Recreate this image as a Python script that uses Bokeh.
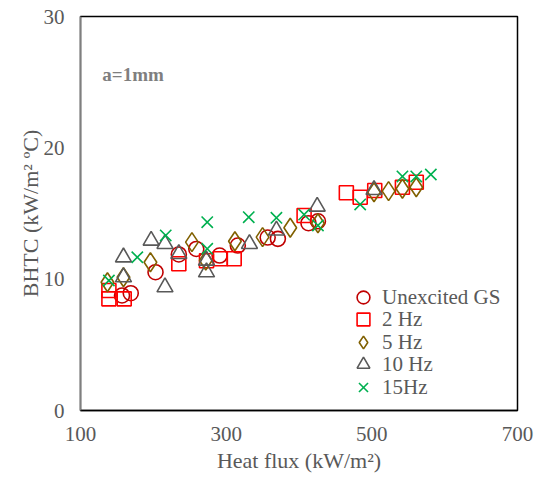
from bokeh.plotting import figure
from bokeh.models import Range1d, FixedTicker, Legend, LegendItem, Label
from bokeh.embed import file_html
from bokeh.resources import INLINE

# Data (heat flux kW/m², BHTC kW/m²°C)
gs_x = [157, 169, 203, 235, 259, 291, 316, 357, 371, 413, 426]
gs_y = [8.76, 8.93, 10.53, 11.88, 12.3, 11.8, 12.56, 13.17, 13.07, 14.26, 14.41]

hz2_x = [139, 139, 160, 235, 273, 292, 311, 407, 465, 484, 504, 542, 561]
hz2_y = [9.14, 8.5, 8.5, 11.17, 11.4, 11.55, 11.55, 14.85, 16.58, 16.24, 16.75, 17.0, 17.38]

hz5_x = [137, 159, 196, 253, 272, 312, 350, 388, 426, 503, 523, 542, 561]
hz5_y = [9.77, 10.15, 11.29, 12.82, 11.42, 12.89, 13.2, 13.91, 14.26, 16.62, 16.7, 16.88, 17.0]

hz10_x = [159, 159, 197, 216, 216, 235, 273, 273, 332, 369, 425, 503]
hz10_y = [11.67, 10.15, 12.94, 12.69, 9.39, 11.93, 11.42, 10.53, 12.69, 13.71, 15.53, 16.8]

hz15_x = [139, 178, 217, 274, 274, 331, 369, 407, 426, 484, 542, 561, 581]
hz15_y = [9.9, 11.67, 13.33, 14.34, 12.31, 14.72, 14.67, 14.92, 14.09, 15.69, 17.82, 17.82, 17.97]

series_labels = ["Unexcited GS", "2 Hz", "5 Hz", "10 Hz", "15Hz"]
x_ticks = [100, 300, 500, 700]
y_ticks = [0, 10, 20, 30]

FONT = "Liberation Serif"
GRAY = "#595959"

p = figure(width=540, height=475, output_backend="svg", toolbar_location=None,
           x_range=Range1d(100, 700), y_range=Range1d(0, 30),
           min_border_left=80, min_border_right=23, min_border_top=16, min_border_bottom=65)

p.grid.visible = False
p.outline_line_color = "black"
p.outline_line_width = 1.5

for ax in (p.xaxis[0], p.yaxis[0]):
    ax.major_tick_line_color = None
    ax.minor_tick_line_color = None
    ax.major_label_text_font = FONT
    ax.major_label_text_font_size = "21px"
    ax.major_label_text_color = GRAY
    ax.axis_label_text_font = FONT
    ax.axis_label_text_font_size = "22px"
    ax.axis_label_text_font_style = "normal"
    ax.axis_label_text_color = GRAY

p.xaxis.ticker = FixedTicker(ticks=x_ticks)
p.yaxis.ticker = FixedTicker(ticks=y_ticks)
p.xaxis.axis_line_color = "black"
p.xaxis.axis_line_width = 1.5
p.yaxis.axis_line_color = "#7f7f7f"
p.yaxis.axis_line_width = 1.5
p.xaxis.major_label_standoff = 10
p.yaxis.major_label_standoff = 10
p.xaxis.axis_label = "Heat flux (kW/m²)"
p.yaxis.axis_label = "BHTC (kW/m² ºC)"
p.xaxis.axis_label_standoff = 4
p.yaxis.axis_label_standoff = -2

r_gs = p.scatter(gs_x, gs_y, marker="circle", size=15, fill_color=None,
                 line_color="#C00000", line_width=1.6)
r_2 = p.scatter(hz2_x, hz2_y, marker="square", size=14, fill_color=None,
                line_color="#FF0000", line_width=1.6)
r_5 = p.scatter(hz5_x, hz5_y, marker="diamond", size=19, fill_color=None,
                line_color="#806000", line_width=1.6)
r_10 = p.scatter(hz10_x, hz10_y, marker="triangle", size=16, fill_color=None,
                 line_color="#595959", line_width=1.6)
r_15 = p.scatter(hz15_x, hz15_y, marker="x", size=16, fill_color=None,
                 line_color="#00B050", line_width=1.6)

renderers = [r_gs, r_2, r_5, r_10, r_15]
legend_bottoms = [97, 75, 52, 30, 7]  # one single-row legend per series, 22.5px apart
for lab, rend, vy in zip(series_labels, renderers, legend_bottoms):
    lg = Legend(items=[LegendItem(label=lab, renderers=[rend])], location=(267, vy))
    lg.border_line_color = None
    lg.background_fill_alpha = 0
    lg.padding = 0
    lg.margin = 0
    lg.glyph_width = 32
    lg.glyph_height = 32
    lg.label_height = 20
    lg.label_standoff = 3
    lg.label_text_font = FONT
    lg.label_text_font_size = "21px"
    lg.label_text_color = GRAY
    p.add_layout(lg, "center")

p.add_layout(Label(x=130, y=25.6, text="a=1mm", text_font=FONT, text_font_size="19px",
                   text_font_style="bold", text_color="#7f7f7f", text_baseline="alphabetic"))

open("out.html", "w").write(file_html(p, INLINE))
